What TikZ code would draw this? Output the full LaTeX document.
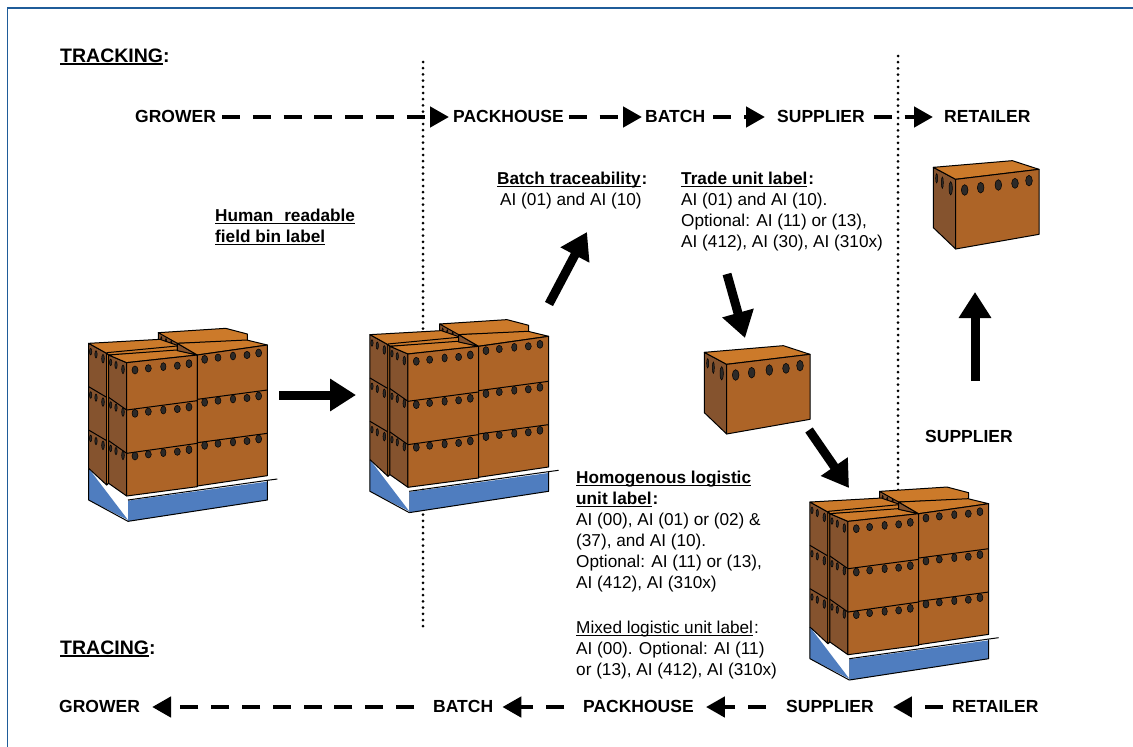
\documentclass[tikz,border=0pt]{standalone}
\usepackage{fontspec}
\setmainfont{Liberation Sans}
\usetikzlibrary{arrows.meta}
\definecolor{frameblue}{HTML}{1F5C99}
\definecolor{boxfront}{HTML}{AD6427}
\definecolor{boxside}{HTML}{85532E}
\definecolor{boxtop}{HTML}{CC7A2A}
\definecolor{palletblue}{HTML}{4F7DBF}
\definecolor{holefill}{HTML}{2D2A28}
\newcommand\ulx[1]{\sbox0{#1}\rlap{\rule[-2.6pt]{\wd0}{1.3pt}}\box0}
\newcommand\sfx{\fontsize{17.2}{21}\selectfont}
\tikzset{
  stage/.style={font=\bfseries\fontsize{17.5}{20}\selectfont, inner sep=0pt, text height=12.5pt, text depth=2.5pt, anchor=west},
  heading/.style={font=\bfseries\fontsize{19.5}{22}\selectfont, inner sep=0pt, anchor=base west},
  note/.style={font=\sfx, inner sep=0pt, anchor=north west, align=left},
  flow/.style={line width=4.6pt, dash pattern=on 18pt off 12.8pt, -{Triangle[length=19pt,width=20pt]}},
  bigarrow/.style={line width=9pt, -{Triangle[length=26pt,width=31pt]}},
  border/.style={dash pattern=on 0pt off 6.2pt, line cap=round, line width=3pt},
  edge/.style={draw=black, line width=1pt, line join=round},
  hole/.style={fill=holefill, draw=black, line width=0.5pt},
  front/.style={edge, fill=boxfront},
  side/.style={edge, fill=boxside},
  lid/.style={edge, fill=boxtop},
}
\newcommand\holes[2]{%
  \path[hole] (#1,#2) ellipse (9 and 12);
  \path[hole] (#1+40,#2-5) ellipse (9 and 11);
  \path[hole] (#1+85,#2-10) ellipse (8 and 12);
  \path[hole] (#1+127,#2-13) ellipse (9 and 11);
  \path[hole] (#1+162,#2-19) ellipse (9 and 12);
}
\newcommand\slots[2]{%
  \path[hole] (#1,#2) ellipse (3.5 and 10);
  \path[hole] (#1+16,#2+8) ellipse (3.5 and 11);
  \path[hole] (#1+37,#2+21) ellipse (4 and 13);
}
\newcommand\palletstack[2]{%
\begin{scope}[shift={(#1,#2)}, x=0.33333pt, y=-0.33333pt]
  % pallet
  \fill[palletblue] (86,475) -- (204,630) -- (86,570) -- cycle;
  \draw[edge] (86,475) -- (86,570) -- (204,634);
  \draw[line width=1pt, draw=gray] (204,570) -- (204,634);
  \fill[palletblue] (204,572) -- (622,515) -- (622,570) -- (204,634) -- cycle;
  \draw[edge] (204,634) -- (622,570) -- (622,512);
  \draw[edge] (204,570) -- (622,511) -- (652,507);
  % back right box lid
  \path[side] (295,68) -- (352,92) -- (352,112) -- (295,90) -- cycle;
  \path[lid] (295,68) -- (497,55) -- (562,72) -- (562,92) -- (352,100) -- cycle;
  \path[hole] (304,85) ellipse (2 and 5);
  \path[hole] (318,90) ellipse (2 and 5);
  \path[hole] (334,96) ellipse (2 and 5);
  % back left column
  \path[side] (86,100) -- (140,130) -- (140,525) -- (86,475) -- cycle;
  \draw[edge] (86,230) -- (140,262);
  \draw[edge] (86,360) -- (140,392);
  \path[lid] (86,100) -- (300,88) -- (352,106) -- (352,122) -- (146,135) -- (140,130) -- cycle;
  \draw[edge] (140,128) -- (352,108);
  \slots{92}{125}\slots{92}{255}\slots{92}{385}
  \path[edge, fill=boxtop] (140,130) -- (146,135) -- (146,520) -- (140,525) -- cycle;
  % front left column
  \path[side] (146,135) -- (200,158) -- (200,558) -- (146,520) -- cycle;
  \draw[edge] (146,262) -- (200,300);
  \draw[edge] (146,392) -- (200,430);
  \path[lid] (146,135) -- (350,120) -- (412,135) -- (200,158) -- cycle;
  \path[front] (200,158) -- (412,135) -- (412,530) -- (200,558) -- cycle;
  \draw[edge] (200,300) -- (412,272);
  \draw[edge] (200,430) -- (412,400);
  \slots{152}{157}\slots{152}{285}\slots{152}{415}
  \holes{225}{180}\holes{225}{310}\holes{225}{438}
  % right column
  \path[side] (352,100) -- (412,135) -- (352,122) -- cycle;
  \path[lid] (352,100) -- (560,90) -- (622,105) -- (412,135) -- cycle;
  \path[front] (412,135) -- (622,105) -- (622,497) -- (412,528) -- cycle;
  \draw[edge] (412,268) -- (622,240);
  \draw[edge] (412,398) -- (622,370);
  \holes{434}{148}\holes{434}{277}\holes{434}{406}
\end{scope}}
\newcommand\singlebox[2]{%
\begin{scope}[shift={(#1,#2)}, x=0.33333pt, y=-0.33333pt]
  \path[side] (73,67) -- (140,103) -- (140,312) -- (73,248) -- cycle;
  \path[lid] (73,67) -- (310,47) -- (390,73) -- (140,103) -- cycle;
  \path[front] (140,103) -- (390,73) -- (390,268) -- (140,312) -- cycle;
  \path[hole] (167,135) ellipse (10 and 16);
  \path[hole] (215,128) ellipse (10 and 16);
  \path[hole] (268,120) ellipse (10 and 16);
  \path[hole] (318,115) ellipse (10 and 15);
  \path[hole] (360,107) ellipse (10 and 16);
  \path[hole] (83,100) ellipse (3 and 14);
  \path[hole] (100,113) ellipse (3 and 17);
  \path[hole] (125,130) ellipse (5 and 20);
\end{scope}}
\begin{document}
\begin{tikzpicture}[x=1pt,y=-1pt]
\useasboundingbox (0,0) rectangle (1133,747);
\fill[white] (0,0) rectangle (1133,747);
\draw[frameblue, line width=1.1pt] (1133,8) -- (7.5,8) -- (7.5,747);

% dotted boundaries
\coordinate (d1a) at (423,62); \coordinate (d1b) at (423,632);
\coordinate (d2a) at (898,56); \coordinate (d2b) at (898,492);
\draw[border] (d1a) -- (d1b);
\draw[border] (d2a) -- (d2b);

% headings
\node[heading] (tracking) at (60,62) {\ulx{TRACKING}:};
\node[heading] (tracing) at (60,654) {\ulx{TRACING}:};

% tracking row
\node[stage] (g1) at (135,117) {GROWER};
\node[stage] (p1) at (453,117) {PACKHOUSE};
\node[stage] (b1) at (645,117) {BATCH};
\node[stage] (s1) at (777,117) {SUPPLIER};
\node[stage] (r1) at (944,117) {RETAILER};
\draw[flow, shorten <=6pt, shorten >=4pt] (g1) -- (p1);
\draw[flow, shorten <=5pt, shorten >=3pt] (p1) -- (b1);
\draw[flow, shorten <=8pt, shorten >=12pt] (b1) -- (s1);
\draw[flow, shorten <=9pt, shorten >=11pt] (s1) -- (r1);

% tracing row
\node[stage] (g2) at (59,707) {GROWER};
\node[stage] (b2) at (433,707) {BATCH};
\node[stage] (p2) at (583,707) {PACKHOUSE};
\node[stage] (s2) at (786,707) {SUPPLIER};
\node[stage] (r2) at (952,707) {RETAILER};
\draw[flow, shorten <=9pt, shorten >=19pt] (r2) -- (s2);
\draw[flow, shorten <=20pt, shorten >=12pt] (s2) -- (p2);
\draw[flow, shorten <=19pt, shorten >=9pt] (p2) -- (b2);
\draw[flow, shorten <=19pt, shorten >=12pt] (b2) -- (g2);

% cargo
\palletstack{60}{310}
\palletstack{341.3}{301.3}
\palletstack{781.3}{468.7}
\singlebox{680}{330}
\singlebox{909}{145}

% notes
\node[note] (human) at (215,209) {\textbf{\ulx{Human\hspace{6pt} readable}}\\\textbf{\ulx{field bin label}}};
\node[note] (batchnote) at (497,172) {\textbf{\ulx{Batch traceability}\hspace{1pt}:}\\\hspace*{3pt}AI (01) and AI (10)};
\node[note] (trade) at (681,172) {\textbf{\ulx{Trade unit label}\hspace{1pt}:}\\AI (01) and AI (10).\\Optional: AI (11) or (13),\\AI (412), AI (30), AI (310x)};
\node[note] (homog) at (576,471) {\textbf{\ulx{Homogenous logistic}}\\\textbf{\ulx{unit label}\hspace{1pt}:}\\AI (00), AI (01) or (02) \&\\(37), and AI (10).\\Optional: AI (11) or (13),\\AI (412), AI (310x)\\[24pt]\ulx{Mixed logistic unit label}\hspace{1pt}:\\AI (00). Optional: AI (11)\\or (13), AI (412), AI (310x)};
\node[stage] (s3) at (925,437) {SUPPLIER};

% block arrows
\coordinate (a1s) at (279,395); \coordinate (a1e) at (356,395);
\coordinate (a2s) at (549,304); \coordinate (a2e) at (587,232);
\coordinate (a3s) at (727,274); \coordinate (a3e) at (745,338);
\coordinate (a4s) at (809,430); \coordinate (a4e) at (849,488);
\coordinate (a5s) at (975,381); \coordinate (a5e) at (975,292);
\draw[bigarrow] (a1s) -- (a1e);
\draw[bigarrow] (a2s) -- (a2e);
\draw[bigarrow] (a3s) -- (a3e);
\draw[bigarrow] (a4s) -- (a4e);
\draw[bigarrow] (a5s) -- (a5e);
\end{tikzpicture}
\end{document}
